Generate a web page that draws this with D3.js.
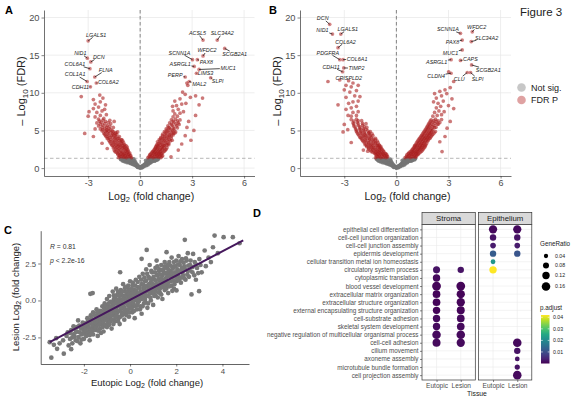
<!DOCTYPE html>
<html><head><meta charset="utf-8">
<script src="https://cdn.jsdelivr.net/npm/d3@7"></script>
<style>body{margin:0;background:#fff}svg{display:block}</style>
</head><body><svg id="c" width="576" height="400"></svg>
<script>
// ---------------- DATA ----------------
const volcXDomain = [-5.55, 6.6];
const volcYDomain = [-1.05, 21];
const volcXTicks = [-3, 0, 3, 6];
const volcYTicks = [0, 5, 10, 15, 20];
const fdrCut = 0.05;

// Panel A (Eutopic) not significant points [log2FC, -log10 FDR]
const aNotSig = [[-1.1,1.25],[-1.05,1.1],[-0.98,1.2],[-0.95,1.0],[-0.9,1.12],[-0.85,0.92],[-0.8,1.25],[-0.78,1.05],[-0.72,0.85],[-0.7,1.18],[-0.65,0.95],[-0.62,0.78],[-0.6,1.1],[-0.55,0.9],[-0.52,0.68],[-0.5,1.22],[-0.47,0.8],[-0.45,0.6],[-0.42,1.0],[-0.4,0.72],[-0.37,1.2],[-0.35,0.52],[-0.33,0.85],[-0.3,0.62],[-0.27,0.42],[-0.25,0.7],[-0.22,0.35],[-0.2,0.5],[-0.17,0.25],[-0.14,0.38],[-0.12,0.15],[-0.08,0.22],[-0.05,0.08],[-0.02,0.03],[0.02,0.05],[0.05,0.12],[0.08,0.2],[0.12,0.1],[0.15,0.3],[0.18,0.22],[0.22,0.42],[0.25,0.3],[0.28,0.55],[0.3,0.4],[0.34,0.7],[0.37,0.5],[0.4,0.88],[0.43,0.62],[0.46,1.05],[0.5,0.75],[0.53,1.2],[0.56,0.9],[0.6,0.7],[0.63,1.05],[0.67,0.85],[0.7,1.22],[0.74,0.98],[0.78,1.15],[0.82,0.92],[0.86,1.25],[0.9,1.05],[0.95,1.2],[1.0,1.1],[1.06,1.25],[-0.58,1.28],[0.57,1.28],[-0.3,0.95],[0.32,1.0],[-0.86,1.22],[0.83,1.1],
[-1.12,1.15],[-1.0,0.95],[-0.92,1.05],[-0.88,0.85],[-0.8,0.95],[-0.76,0.75],[-0.68,1.0],[-0.64,0.7],[-0.58,0.85],[-0.55,0.6],[-0.48,0.7],[-0.44,0.52],[-0.38,0.6],[-0.34,0.42],[-0.28,0.5],[-0.24,0.32],[-0.18,0.3],[-0.15,0.12],[-0.1,0.15],[-0.04,0.15],[0.04,0.18],[0.1,0.05],[0.12,0.25],[0.18,0.35],[0.22,0.2],[0.27,0.45],[0.32,0.52],[0.36,0.35],[0.4,0.62],[0.45,0.45],[0.48,0.88],[0.52,0.6],[0.58,1.05],[0.62,0.85],[0.68,1.1],[0.72,0.92],[0.8,1.2],[0.88,1.0],[0.95,1.1],[1.02,1.2]];
// Panel A significant points
const aSig = [[-1.25,1.4],[-1.1,1.5],[-0.95,1.45],[-0.8,1.4],[-0.65,1.5],[-0.5,1.4],[-1.2,1.7],[-1.0,1.75],[-0.85,1.65],[-0.7,1.8],[-0.55,1.7],[-1.3,1.95],[-1.1,2.0],[-0.9,1.95],[-0.75,2.1],[-0.6,2.0],
[-1.45,2.2],[-1.25,2.3],[-1.05,2.25],[-0.85,2.35],[-0.7,2.4],[-1.4,2.55],[-1.2,2.6],[-1.0,2.65],[-0.8,2.6],[-1.5,2.85],[-1.3,2.9],[-1.1,2.95],[-0.9,2.85],[-0.75,2.8],
[-1.65,3.1],[-1.45,3.2],[-1.25,3.15],[-1.05,3.25],[-0.9,3.1],[-1.75,3.5],[-1.55,3.45],[-1.35,3.55],[-1.15,3.5],[-1.0,3.6],[-1.7,3.8],[-1.5,3.85],[-1.3,3.9],[-1.1,3.8],[-1.85,4.0],[-1.6,4.1],
[-1.4,4.15],[-1.2,4.2],[-2.0,4.3],[-1.8,4.35],[-1.55,4.4],[-1.35,4.45],[-2.1,4.65],[-1.9,4.7],[-1.7,4.75],[-1.45,4.6],[-1.3,4.8],[-2.2,4.95],[-1.95,5.0],[-1.6,4.95],
[-2.3,5.2],[-2.05,5.3],[-1.8,5.25],[-1.55,5.4],[-2.4,5.6],[-2.15,5.7],[-1.9,5.65],[-1.7,5.9],[-2.5,6.0],[-2.25,6.1],[-2.0,6.2],[-1.75,6.35],[-2.4,6.5],[-2.1,6.6],
[-2.6,6.8],[-2.3,7.0],[-1.95,7.1],[-3.0,6.9],[-2.5,7.4],[-2.2,7.6],[-2.95,7.5],[-2.7,7.9],[-2.4,8.1],[-2.05,7.8],[-2.6,8.5],[-2.3,8.8],[-2.0,8.4],[-2.7,9.1],[-2.33,9.7],[-3.4,9.5],[-2.15,9.3],
[-2.7,4.2],[-2.2,3.3],[-3.2,4.6],[-1.9,2.6],[-2.6,5.2],[-1.5,6.2],
[0.45,1.4],[0.6,1.5],[0.75,1.4],[0.9,1.5],[1.05,1.45],[1.2,1.4],[0.55,1.75],[0.7,1.7],[0.85,1.8],[1.0,1.7],[1.15,1.75],[1.3,1.65],[0.65,2.0],[0.8,2.05],[0.95,1.95],[1.1,2.0],[1.25,1.95],
[0.75,2.25],[0.9,2.3],[1.05,2.2],[1.2,2.3],[1.4,2.25],[0.85,2.55],[1.0,2.6],[1.15,2.5],[1.3,2.6],[1.5,2.5],[0.9,2.85],[1.05,2.9],[1.25,2.85],[1.4,2.95],
[0.95,3.1],[1.1,3.2],[1.3,3.15],[1.5,3.2],[1.65,3.1],[1.0,3.5],[1.2,3.45],[1.4,3.55],[1.6,3.5],[1.1,3.8],[1.3,3.85],[1.5,3.9],[1.7,3.8],[1.85,3.7],
[1.2,4.1],[1.4,4.2],[1.6,4.15],[1.8,4.25],[1.3,4.5],[1.5,4.55],[1.7,4.45],[1.9,4.6],[1.4,4.85],[1.6,4.9],[1.85,4.95],[2.05,4.8],
[1.5,5.2],[1.7,5.3],[1.95,5.25],[1.6,5.6],[1.85,5.7],[2.1,5.6],[1.7,6.0],[1.95,6.1],[2.2,6.0],[1.8,6.4],[2.05,6.5],[2.3,6.4],[1.9,6.8],[2.15,6.9],
[2.0,7.2],[2.3,7.3],[1.9,7.6],[2.2,7.8],[2.5,7.5],[1.87,8.2],[2.1,8.3],[2.4,8.5],[2.64,8.6],[2.0,8.9],[2.3,9.2],
[2.93,3.7],[1.78,1.5],[2.6,4.3],[3.1,5.0],[2.4,3.2],[2.8,6.2],[3.2,7.0],[2.7,5.4],[3.4,8.4],[2.2,2.4],
[2.6,9.8],[2.9,9.4],[3.2,9.6],[3.6,9.3],[2.45,10.1],[2.75,11.0],[2.7,11.3]];
// Panel A significant points in the dense lower arms
const aSigDense = [[-1.18,1.55],[-1.02,1.6],[-0.88,1.55],[-0.72,1.6],[-0.58,1.58],[-1.28,1.8],[-1.12,1.85],[-0.95,1.85],[-0.8,1.9],[-0.65,1.85],[-1.38,2.1],[-1.2,2.12],[-1.0,2.1],[-0.82,2.2],[-0.68,2.2],[-1.5,2.4],[-1.32,2.45],[-1.12,2.42],[-0.92,2.48],[-0.75,2.52],[-1.55,2.7],[-1.35,2.75],[-1.15,2.78],[-0.95,2.72],[-0.82,2.98],[-1.6,3.0],[-1.4,3.05],[-1.2,3.02],[-1.0,2.98],[-1.7,3.3],[-1.5,3.35],[-1.3,3.32],[-1.1,3.38],[-0.95,3.35],[-1.8,3.65],[-1.6,3.62],[-1.4,3.7],[-1.2,3.68],[-1.05,3.75],[-1.9,3.92],[-1.75,4.05],[-1.45,4.0],[-1.25,3.98],[-1.95,4.2],[-1.65,4.3],[-1.45,4.32],[-2.05,4.5],[-1.85,4.52],[-1.6,4.55],[-1.4,4.7],[-2.0,4.85],[-1.8,4.88],[-1.55,4.8],[-2.15,5.1],[-1.9,5.12],[-1.7,5.1],[-2.2,5.45],[-1.95,5.45],[-1.75,5.55],[-2.3,5.85],[-2.05,5.9],[-1.85,6.05],[-2.35,6.25],[-2.15,6.38],
[0.52,1.55],[0.68,1.6],[0.82,1.55],[0.98,1.6],[1.12,1.58],[1.25,1.55],[0.6,1.85],[0.78,1.9],[0.92,1.88],[1.08,1.85],[1.2,1.88],[0.7,2.15],[0.85,2.15],[1.0,2.12],[1.15,2.15],[1.32,2.1],[0.8,2.42],[0.95,2.45],[1.1,2.4],[1.28,2.45],[1.45,2.4],[0.88,2.7],[1.02,2.75],[1.2,2.72],[1.38,2.75],[1.55,2.7],[0.98,3.0],[1.15,3.02],[1.35,3.0],[1.55,3.05],[1.05,3.3],[1.25,3.32],[1.45,3.35],[1.65,3.3],[1.15,3.65],[1.35,3.68],[1.55,3.7],[1.75,3.62],[1.2,3.95],[1.4,4.0],[1.62,4.02],[1.8,4.0],[1.3,4.3],[1.5,4.35],[1.7,4.3],[1.9,4.4],[1.45,4.7],[1.65,4.72],[1.82,4.7],[2.0,4.65],[1.55,5.05],[1.75,5.1],[1.95,5.05],[1.65,5.42],[1.9,5.45],[2.15,5.35],[1.8,5.85],[2.05,5.85],[2.25,5.8],[1.9,6.25],[2.15,6.25]];
// Panel A labelled genes [name, log2FC, -log10 FDR]
const aGenes = [["LGALS1",-3.0,16.9],["NID1",-3.05,14.6],["DCN",-2.85,14.1],["COL6A1",-2.9,13.2],["FLNA",-2.62,12.1],["COL1A1",-3.06,11.5],["COL6A2",-2.53,11.3],["CDH11",-2.87,10.8],
["ACSL5",3.63,17.0],["SLC34A2",4.45,17.0],["WFDC2",3.63,14.9],["SCGB2A1",4.88,15.9],["SCNN1A",3.02,14.4],["PAX8",3.3,14.4],["ASRGL1",3.12,13.5],["MUC1",3.4,13.1],["LIMS3",3.25,12.6],["PERP",2.6,12.1],["SLPI",4.07,12.0],["MAL2",2.83,11.5]];

// Panel B (Lesion)
const bNotSig = [[-1.15,1.22],[-1.08,1.08],[-1.0,1.25],[-0.96,0.98],[-0.92,1.15],[-0.86,0.9],[-0.82,1.22],[-0.78,1.02],[-0.74,0.84],[-0.7,1.15],[-0.66,0.96],[-0.63,0.76],[-0.6,1.08],[-0.56,0.88],[-0.53,0.66],[-0.5,1.2],[-0.47,0.78],[-0.44,0.58],[-0.42,0.98],[-0.39,0.7],[-0.36,1.18],[-0.34,0.5],[-0.32,0.84],[-0.29,0.6],[-0.26,0.4],[-0.24,0.68],[-0.21,0.33],[-0.19,0.48],[-0.16,0.24],[-0.13,0.36],[-0.11,0.14],[-0.07,0.2],[-0.04,0.07],[0.0,0.02],[0.03,0.06],[0.06,0.13],[0.09,0.22],[0.13,0.11],[0.16,0.32],[0.19,0.24],[0.23,0.44],[0.26,0.31],[0.29,0.57],[0.32,0.42],[0.35,0.72],[0.38,0.52],[0.41,0.9],[0.44,0.64],[0.47,1.07],[0.51,0.77],[0.54,1.22],[0.58,0.92],[0.62,0.72],[0.65,1.07],[0.69,0.87],[0.73,1.24],[0.77,1.0],[0.81,1.17],[0.85,0.94],[0.9,1.26],[0.95,1.07],[1.0,1.22],[1.05,1.12],[1.1,1.27],[-0.6,1.28],[0.6,1.28],[-0.31,0.97],[0.34,1.02],[-0.88,1.24],[0.86,1.12],
[-1.1,1.15],[-1.02,0.95],[-0.94,1.05],[-0.9,0.82],[-0.82,0.95],[-0.78,0.72],[-0.7,1.0],[-0.66,0.68],[-0.6,0.85],[-0.56,0.58],[-0.5,0.7],[-0.45,0.5],[-0.4,0.6],[-0.36,0.4],[-0.3,0.5],[-0.25,0.3],[-0.2,0.3],[-0.16,0.12],[-0.1,0.15],[-0.04,0.15],[0.04,0.18],[0.1,0.06],[0.13,0.25],[0.19,0.35],[0.23,0.2],[0.28,0.45],[0.33,0.52],[0.37,0.35],[0.42,0.62],[0.47,0.45],[0.5,0.88],[0.54,0.6],[0.6,1.05],[0.65,0.85],[0.7,1.1],[0.75,0.92],[0.82,1.2],[0.9,1.0],[0.97,1.12],[1.04,1.22]];
const bSig = [[-1.2,1.4],[-1.05,1.5],[-0.9,1.4],[-0.75,1.45],[-0.6,1.4],[-0.5,1.5],[-1.15,1.75],[-1.0,1.7],[-0.85,1.8],[-0.7,1.7],[-0.55,1.75],[-1.25,2.0],[-1.1,1.95],[-0.95,2.05],[-0.8,2.0],[-0.65,1.95],
[-1.45,2.2],[-1.3,2.3],[-1.1,2.25],[-0.95,2.35],[-0.75,2.3],[-1.6,2.55],[-1.4,2.6],[-1.2,2.5],[-1.0,2.65],[-0.85,2.6],[-1.7,2.85],[-1.5,2.9],[-1.3,2.8],[-1.1,2.95],[-0.9,2.9],[-1.65,2.25],
[-1.8,3.1],[-1.6,3.2],[-1.4,3.15],[-1.2,3.25],[-1.0,3.1],[-1.9,3.5],[-1.7,3.45],[-1.5,3.55],[-1.3,3.5],[-1.1,3.6],[-2.0,3.85],[-1.8,3.8],[-1.55,3.9],[-1.35,3.85],[-1.2,3.95],
[-2.1,4.1],[-1.9,4.2],[-1.7,4.15],[-1.5,4.25],[-1.35,4.3],[-2.2,4.5],[-2.0,4.55],[-1.8,4.45],[-1.6,4.6],[-1.4,4.55],[-2.3,4.85],[-2.05,4.9],[-1.85,4.8],[-1.65,4.95],[-1.5,4.85],
[-2.35,5.2],[-2.1,5.3],[-1.9,5.25],[-1.7,5.4],[-2.45,5.6],[-2.2,5.65],[-1.95,5.7],[-1.75,5.9],[-2.5,6.0],[-2.25,6.1],[-2.0,6.3],[-2.6,6.45],[-2.3,6.5],
[-2.6,6.9],[-2.3,7.0],[-2.78,7.0],[-2.5,7.4],[-2.2,7.5],[-2.9,7.8],[-2.6,8.0],[-2.3,8.2],[-3.36,8.4],[-2.75,8.6],[-2.5,8.8],[-2.2,8.9],
[-2.68,10.1],[-2.9,9.4],[-2.4,9.6],[-3.0,10.4],[-2.6,10.8],[-2.3,10.3],[-2.9,11.0],[-2.5,11.3],[-2.2,11.0],[-3.94,11.5],[-2.75,11.6],[-2.1,9.5],
[-3.07,4.8],[-2.6,3.4],[-3.0,5.8],[-2.8,5.1],[-1.9,2.4],
[0.5,1.4],[0.65,1.5],[0.8,1.4],[0.95,1.5],[1.1,1.45],[0.6,1.75],[0.75,1.7],[0.9,1.8],[1.05,1.7],[1.2,1.75],[0.7,2.0],[0.85,1.95],[1.0,2.05],[1.15,2.0],[1.3,1.95],
[0.85,2.25],[1.0,2.3],[1.15,2.2],[1.3,2.35],[1.45,2.25],[0.95,2.55],[1.1,2.6],[1.25,2.5],[1.4,2.65],[1.55,2.55],[1.05,2.85],[1.2,2.9],[1.35,2.8],[1.5,2.95],[1.65,2.85],
[1.1,3.1],[1.25,3.2],[1.4,3.15],[1.55,3.25],[1.7,3.1],[1.2,3.5],[1.35,3.45],[1.5,3.55],[1.65,3.5],[1.8,3.6],[1.3,3.85],[1.45,3.8],[1.6,3.9],[1.75,3.85],[1.9,3.95],
[1.4,4.15],[1.55,4.2],[1.7,4.1],[1.85,4.25],[2.0,4.2],[1.5,4.5],[1.65,4.55],[1.8,4.45],[1.95,4.6],[2.1,4.5],[1.6,4.85],[1.75,4.9],[1.9,4.8],[2.05,4.95],[2.25,4.85],
[1.7,5.2],[1.85,5.3],[2.0,5.25],[2.2,5.4],[1.8,5.6],[1.95,5.7],[2.15,5.65],[2.35,5.8],[1.9,6.0],[2.1,6.1],[2.3,6.2],[2.5,6.05],[2.0,6.4],[2.25,6.5],[2.6,6.45],
[2.1,6.9],[2.35,7.0],[2.6,7.1],[2.2,7.4],[2.45,7.6],[2.75,7.5],[2.3,8.0],[2.55,8.2],[3.3,7.9],[2.14,8.8],[2.4,8.6],[2.7,8.9],[3.0,8.3],
[2.3,9.3],[2.6,9.6],[2.9,9.9],[3.2,9.2],[2.5,10.2],[2.8,10.4],[3.1,10.7],[2.2,9.9],[3.3,11.5],[3.01,12.8],
[2.92,5.3],[2.63,2.2],[2.5,3.5],[3.1,6.2],[2.8,4.2]];
const bSigDense = [[-1.12,1.55],[-0.98,1.6],[-0.82,1.55],[-0.68,1.6],[-0.55,1.6],[-1.2,1.85],[-1.05,1.85],[-0.9,1.9],[-0.75,1.85],[-0.6,1.88],[-1.35,2.1],[-1.18,2.12],[-1.02,2.15],[-0.88,2.18],[-0.72,2.15],[-1.5,2.4],[-1.35,2.45],[-1.15,2.4],[-0.98,2.48],[-0.82,2.45],[-1.6,2.7],[-1.42,2.75],[-1.22,2.7],[-1.05,2.78],[-0.92,2.72],[-1.72,3.0],[-1.52,3.05],[-1.32,3.0],[-1.12,3.02],[-0.98,2.98],[-1.82,3.32],[-1.6,3.35],[-1.4,3.3],[-1.2,3.38],[-1.05,3.35],[-1.95,3.68],[-1.75,3.65],[-1.55,3.72],[-1.35,3.68],[-1.2,3.75],[-2.05,4.0],[-1.85,4.02],[-1.65,3.98],[-1.45,4.05],[-2.15,4.32],[-1.95,4.35],[-1.75,4.32],[-1.55,4.4],[-2.25,4.68],[-2.05,4.72],[-1.82,4.65],[-1.58,4.72],[-2.3,5.05],[-2.1,5.1],[-1.9,5.05],[-1.75,5.15],[-2.38,5.45],[-2.1,5.48],[-1.85,5.52],[-2.45,5.85],[-2.2,5.88],[-1.95,5.95],[-2.45,6.25],[-2.2,6.3],
[0.58,1.55],[0.72,1.6],[0.88,1.55],[1.02,1.6],[1.15,1.6],[0.68,1.88],[0.82,1.85],[0.98,1.9],[1.12,1.88],[1.25,1.85],[0.78,2.15],[0.92,2.15],[1.08,2.12],[1.22,2.18],[1.38,2.12],[0.9,2.42],[1.05,2.45],[1.2,2.4],[1.35,2.48],[1.5,2.42],[1.0,2.72],[1.15,2.75],[1.3,2.68],[1.45,2.78],[1.6,2.7],[1.05,3.0],[1.2,3.02],[1.35,2.98],[1.5,3.05],[1.65,3.0],[1.15,3.32],[1.3,3.35],[1.45,3.3],[1.6,3.38],[1.75,3.32],[1.25,3.68],[1.4,3.65],[1.55,3.72],[1.7,3.68],[1.85,3.75],[1.35,4.0],[1.5,4.02],[1.65,3.98],[1.8,4.05],[1.95,4.0],[1.45,4.32],[1.6,4.35],[1.75,4.3],[1.9,4.38],[2.05,4.35],[1.55,4.68],[1.72,4.72],[1.88,4.65],[2.02,4.75],[2.18,4.68],[1.65,5.05],[1.8,5.1],[1.95,5.05],[2.1,5.12],[1.75,5.45],[1.9,5.48],[2.08,5.5],[2.28,5.42],[1.85,5.85],[2.02,5.88],[2.22,5.95],[2.42,5.85],[1.95,6.25],[2.15,6.3],[2.4,6.28]];
const bGenes = [["DCN",-3.84,19.1],["NID1",-3.68,17.8],["LGALS1",-3.2,17.8],["COL6A2",-3.36,16.0],["PDGFRA",-3.26,14.4],["COL6A1",-3.07,14.4],["TIMP2",-3.03,13.3],["CDH11",-3.1,12.8],["CRISPLD2",-3.26,11.7],
["SCNN1A",3.69,17.9],["WFDC2",4.37,18.1],["PAX8",3.79,17.0],["SLC34A2",4.31,16.8],["MUC1",3.79,15.7],["CAPS",3.69,14.3],["ASRGL1",3.15,14.4],["SCGB2A1",4.33,13.7],["CLDN4",3.15,12.6],["CLU",4.08,12.7],["SLPI",4.27,12.7]];

// Panel C: [eutopic log2FC, lesion log2FC]
const cPoints = [[-3.48,-2.82],[-3.41,-3.87],[-3.16,-3.27],[-3.3,-3.0],[-3.05,-2.9],[-3.2,-2.55],
[-2.87,-3.6],[-2.66,-3.04],[-2.9,-2.7],[-2.75,-2.4],[-2.6,-2.6],[-2.55,-3.3],[-2.7,-2.15],[-2.5,-2.9],
[-2.45,-2.3],[-2.4,-1.9],[-2.35,-2.7],[-2.23,-2.48],[-2.3,-2.1],[-2.2,-1.7],[-2.15,-2.9],[-2.1,-2.3],[-2.05,-1.5],[-2.0,-2.0],[-2.25,-1.35],[-2.0,-2.6],
[-1.95,-1.8],[-1.9,-2.4],[-1.85,-1.2],[-1.8,-1.6],[-1.8,-2.1],[-1.75,-2.7],[-1.7,-1.0],[-1.7,-1.4],[-1.65,-1.9],[-1.6,-2.3],[-1.6,-0.8],[-1.55,-1.6],[-1.5,-1.2],[-1.5,-2.0],[-1.72,0.45],[-1.62,0.5],
[-1.45,-0.6],[-1.45,-1.7],[-1.4,-1.0],[-1.4,-2.4],[-1.35,-1.4],[-1.3,-0.7],[-1.3,-1.9],[-1.25,-1.1],[-1.2,-0.4],[-1.2,-1.6],[-1.15,-0.9],[-1.15,-2.1],[-1.1,-1.3],[-1.1,-0.2],[-1.05,-0.7],[-1.0,-1.1],[-1.0,-1.8],[-1.0,0.1],
[-0.95,-0.4],[-0.95,-1.5],[-0.9,-0.9],[-0.9,0.3],[-0.85,-1.2],[-0.85,-0.1],[-0.8,-0.6],[-0.8,-1.9],[-0.75,-0.3],[-0.75,0.6],[-0.7,-1.0],[-0.7,0.1],[-0.65,-0.5],[-0.65,-1.4],[-0.6,-0.1],[-0.6,0.8],[-0.55,-0.8],[-0.55,0.4],[-0.5,-0.3],[-0.5,-1.2],
[-0.45,0.1],[-0.45,-1.6],[-0.43,1.91],[-0.4,-0.6],[-0.4,0.7],[-0.35,-0.2],[-0.35,-1.0],[-0.3,0.3],[-0.3,1.1],[-0.25,-0.5],[-0.25,-1.3],[-0.2,0.0],[-0.2,0.6],[-0.15,-0.8],[-0.15,0.9],[-0.1,-0.3],[-0.1,0.3],[-0.05,-1.1],[-0.05,0.7],[0.0,-0.5],[0.0,0.1],[0.0,1.3],
[0.05,-0.2],[0.05,0.5],[0.1,-0.8],[0.1,1.0],[0.15,0.2],[0.15,-0.4],[0.2,0.7],[0.2,-1.2],[0.25,0.0],[0.25,1.4],[0.3,0.4],[0.3,-0.6],[0.35,0.9],[0.35,-0.1],[0.4,0.2],[0.4,1.6],[0.45,-0.4],[0.45,0.6],[0.5,1.1],[0.5,-0.9],
[0.5,2.82],[0.55,0.3],[0.55,1.8],[0.6,0.8],[0.6,-0.2],[0.65,1.3],[0.65,0.1],[0.7,0.6],[0.72,3.42],[0.7,2.1],[0.75,1.0],[0.75,-0.5],[0.8,0.3],[0.8,1.6],[0.85,0.8],[0.85,2.4],[0.9,0.0],[0.9,1.2],[0.95,0.5],[0.95,1.9],[1.0,0.9],[1.0,-0.3],
[1.05,1.4],[1.05,0.3],[1.1,2.2],[1.1,0.7],[1.15,1.1],[1.15,2.7],[1.2,0.2],[1.2,1.7],[1.25,0.9],[1.25,2.0],[1.3,1.3],[1.3,0.5],[1.35,2.4],[1.35,1.0],[1.4,1.7],[1.4,0.1],[1.45,2.1],[1.45,1.3],[1.5,0.7],[1.5,2.6],
[1.55,1.5],[1.58,3.27],[1.6,1.0],[1.6,2.2],[1.65,1.8],[1.65,0.5],[1.7,2.6],[1.7,1.3],[1.75,2.0],[1.8,1.0],[1.8,2.9],[1.85,1.6],[1.9,2.3],[1.9,0.8],[1.95,1.9],[2.0,1.3],[2.0,2.7],[2.01,0.68],
[2.05,2.1],[2.1,1.6],[2.1,3.0],[2.15,2.4],[2.2,1.2],[2.2,2.0],[2.25,2.8],[2.3,1.7],[2.35,2.3],[2.37,4.1],[2.4,1.4],[2.45,2.7],[2.5,2.0],[2.5,3.2],
[2.55,1.6],[2.6,2.4],[2.66,0.41],[2.7,1.9],[2.73,3.15],[2.8,2.6],[2.85,1.4],[2.9,2.2],[2.99,0.63],[3.0,2.8],
[3.1,1.9],[3.23,3.38],[3.28,2.32],[3.4,2.9],[3.59,3.6],[3.66,4.39],[3.8,3.2],[4.05,4.28],[4.45,4.28],[4.74,3.87],[3.5,2.6]];
const cPointsCore = [[-2.6,-2.2],[-2.55,-2.0],[-2.5,-2.5],[-2.45,-1.75],[-2.4,-2.45],[-2.35,-2.15],[-2.3,-1.8],[-2.28,-2.75],[-2.18,-2.15],[-2.12,-1.9],[-2.1,-2.65],[-2.05,-2.25],[-2.02,-1.75],
[-1.98,-2.2],[-1.95,-1.55],[-1.92,-2.0],[-1.88,-1.7],[-1.85,-2.25],[-1.82,-1.35],[-1.78,-1.85],[-1.75,-2.35],[-1.72,-1.55],[-1.68,-1.2],[-1.66,-2.1],[-1.62,-1.7],[-1.58,-1.35],[-1.56,-1.95],[-1.52,-1.0],[-1.52,-1.5],
[-1.48,-1.85],[-1.46,-1.3],[-1.42,-0.8],[-1.4,-1.5],[-1.38,-2.05],[-1.36,-1.15],[-1.33,-1.65],[-1.3,-0.95],[-1.28,-1.4],[-1.26,-2.2],[-1.22,-0.75],[-1.2,-1.2],[-1.18,-1.8],[-1.15,-1.45],[-1.12,-0.55],[-1.1,-1.05],[-1.08,-1.65],[-1.05,-0.35],[-1.04,-1.3],[-1.02,-0.9],
[-0.98,-1.3],[-0.97,-0.6],[-0.94,-1.1],[-0.92,-0.2],[-0.9,-1.65],[-0.88,-0.75],[-0.86,-1.4],[-0.83,-0.45],[-0.82,-1.0],[-0.78,-0.1],[-0.78,-1.3],[-0.76,-0.75],[-0.72,-1.6],[-0.72,-0.45],[-0.7,0.35],[-0.68,-0.8],[-0.66,-0.2],[-0.63,-1.15],[-0.62,0.3],[-0.6,-0.6],[-0.58,-1.0],[-0.57,0.05],[-0.54,-0.4],[-0.52,0.6],[-0.52,-1.4],
[-0.48,-0.7],[-0.47,0.35],[-0.44,-0.1],[-0.42,-1.1],[-0.4,0.45],[-0.38,-0.45],[-0.37,-0.8],[-0.33,0.05],[-0.32,0.6],[-0.3,-0.3],[-0.28,-0.9],[-0.27,0.2],[-0.23,-0.65],[-0.22,0.85],[-0.2,-0.2],[-0.18,0.35],[-0.16,-1.0],[-0.14,0.05],[-0.12,0.55],[-0.1,-0.6],[-0.08,1.0],[-0.07,-0.1],[-0.04,0.4],[-0.02,-0.8],[0.0,0.75],[0.02,-0.25],
[0.03,0.3],[0.06,-0.55],[0.08,0.75],[0.1,0.05],[0.12,1.2],[0.13,-0.2],[0.16,0.5],[0.18,-0.7],[0.2,0.25],[0.22,1.0],[0.24,-0.35],[0.27,0.65],[0.28,0.15],[0.32,-0.3],[0.33,1.25],[0.36,0.45],[0.38,-0.05],[0.42,0.85],[0.43,-0.6],[0.46,0.35],[0.48,1.4],[0.5,0.1],
[0.52,0.6],[0.54,-0.4],[0.57,1.05],[0.58,0.15],[0.62,1.55],[0.63,0.45],[0.66,-0.1],[0.68,0.95],[0.7,1.35],[0.72,0.3],[0.74,1.8],[0.77,0.7],[0.78,-0.2],[0.82,1.1],[0.84,0.5],[0.86,1.5],[0.88,0.2],[0.9,0.85],[0.92,2.0],[0.93,1.4],[0.96,0.7],[0.98,1.1],
[1.02,1.6],[1.03,0.5],[1.06,1.05],[1.08,1.9],[1.1,0.35],[1.12,1.35],[1.14,0.85],[1.17,1.7],[1.18,2.3],[1.2,1.05],[1.22,0.55],[1.24,1.45],[1.27,2.1],[1.28,0.75],[1.3,1.75],[1.32,1.1],[1.35,0.4],[1.37,1.5],[1.38,2.05],[1.42,0.9],[1.43,1.3],[1.46,1.85],[1.48,1.05],[1.5,2.3],
[1.52,1.25],[1.55,1.85],[1.57,0.8],[1.6,1.6],[1.62,2.4],[1.64,1.2],[1.67,2.05],[1.7,0.95],[1.72,1.65],[1.75,2.35],[1.77,1.3],[1.8,1.85],[1.83,0.65],[1.85,2.15],[1.88,1.35],[1.9,2.6],[1.92,1.1],[1.95,1.7],[1.97,2.3],[2.0,1.55],
[2.05,1.85],[2.08,2.45],[2.12,1.35],[2.15,2.0],[2.18,2.65],[2.22,1.55],[2.25,2.2],[2.28,1.95],[2.32,2.55],[2.35,1.5],[2.4,2.1],[2.42,2.85],[2.48,1.75],[2.52,2.35],[2.58,2.05],[2.62,2.7],
[2.7,2.25],[2.78,1.7],[2.85,2.45],[2.95,1.85],[3.05,2.4]];
const cXTicks = [-2, 0, 2, 4];
const cYTicks = [-2.5, 0, 2.5];
const cFit = {slope: 0.822, intercept: 0.04, xmin: -3.48, xmax: 4.9};
const cStats = {R: "0.81", p: "2.2e-16"};

// Panel D: GO enrichment
const goTerms = ["epithelial cell differentiation","cell-cell junction organization","cell-cell junction assembly","epidermis development","cellular transition metal ion homeostasis","circulatory system process","cytoplasmic translation","blood vessel development","extracellular matrix organization","extracellular structure organization","external encapsulating structure organization","cell-substrate adhesion","skeletal system development","negative regulation of multicellular organismal process","cell-cell adhesion","cilium movement","axoneme assembly","microtubule bundle formation","cell projection assembly"];
const goCompartments = ["Stroma","Epithelium"];
const goTissues = ["Eutopic","Lesion"];
// [term, GeneRatio, p.adjust]
const stromaEutopic = [["circulatory system process",0.11,0.002],["cytoplasmic translation",0.12,0.001],["blood vessel development",0.17,0.0005],["extracellular matrix organization",0.13,0.0005],["extracellular structure organization",0.13,0.0005],["external encapsulating structure organization",0.12,0.0005],["cell-substrate adhesion",0.12,0.001],["skeletal system development",0.12,0.001],["negative regulation of multicellular organismal process",0.16,0.001],["cell-cell adhesion",0.14,0.001]];
const stromaLesion = [["circulatory system process",0.09,0.002],["blood vessel development",0.17,0.0005],["extracellular matrix organization",0.15,0.0005],["extracellular structure organization",0.15,0.0005],["external encapsulating structure organization",0.14,0.0005],["cell-substrate adhesion",0.13,0.001],["skeletal system development",0.13,0.001],["negative regulation of multicellular organismal process",0.16,0.001],["cell-cell adhesion",0.15,0.001]];
const epiEutopic = [["epithelial cell differentiation",0.15,0.001],["cell-cell junction organization",0.09,0.002],["cell-cell junction assembly",0.07,0.003],["epidermis development",0.09,0.012],["cellular transition metal ion homeostasis",0.05,0.022],["circulatory system process",0.12,0.042]];
const epiLesion = [["epithelial cell differentiation",0.15,0.001],["cell-cell junction organization",0.09,0.002],["cell-cell junction assembly",0.07,0.003],["epidermis development",0.09,0.011],["cell-cell adhesion",0.16,0.001],["cilium movement",0.09,0.002],["axoneme assembly",0.05,0.002],["microtubule bundle formation",0.06,0.002],["cell projection assembly",0.16,0.001]];
const sizeBreaks = [0.04, 0.08, 0.12, 0.16];
const padjBreaks = [0.01, 0.02, 0.03, 0.04];

// ---------------- LAYOUT ----------------
const FONT = '"Liberation Sans", Arial, Helvetica, sans-serif';
const svg = d3.select('#c').attr('font-family', FONT);
svg.append('rect').attr('width',576).attr('height',400).attr('fill','#fff');

const aLabelOffsets = {LGALS1:[8,-6],NID1:[-7,-5],DCN:[8,-5],COL6A1:[-15,-4.5],FLNA:[11,-7],COL1A1:[-12,-7],COL6A2:[12,-1],CDH11:[-10,0.5],
ACSL5:[-5.5,-7],SLC34A2:[5,-7],WFDC2:[4,-5.5],SCGB2A1:[10,5.5],SCNN1A:[-13,-7],PAX8:[9,2.6],ASRGL1:[-14,-2.5],MUC1:[29,-1],LIMS3:[9,0],PERP:[-10,-2],SLPI:[7,3.5],MAL2:[10,3]};
const bLabelOffsets = {DCN:[-7,-6],NID1:[-10,-3.5],LGALS1:[7,-5],COL6A2:[7.5,-6],PDGFRA:[-12,-7],COL6A1:[14,-0.7],TIMP2:[12.7,0.3],CDH11:[-11.5,-5],CRISPLD2:[9,-1.7],
SCNN1A:[-12.5,-4],WFDC2:[4.4,-5],PAX8:[-9.7,2.2],SLC34A2:[15.4,-4],MUC1:[-11.7,2.8],CAPS:[10,-1],ASRGL1:[-14.4,2],SCGB2A1:[16.7,5],CLDN4:[-15,2.5],CLU:[-8,6.5],SLPI:[7,6.5]};

function styleAxis(sel, fs, col) {
  sel.attr('font-family', FONT).attr('font-size', fs);
  sel.select('.domain').attr('stroke', col || '#333').attr('stroke-width', 0.7);
  sel.selectAll('.tick line').attr('stroke', col || '#333').attr('stroke-width', 0.6);
  sel.selectAll('.tick text').attr('fill', '#4d4d4d');
}

function volcano(cfg) {
  const g = svg.append('g');
  const x = d3.scaleLinear().domain(volcXDomain).range([cfg.left, cfg.right]);
  const y = d3.scaleLinear().domain(volcYDomain).range([cfg.bottom, cfg.top]);
  g.append('g').selectAll('line').data(volcXTicks).join('line')
    .attr('x1', d => x(d)).attr('x2', d => x(d)).attr('y1', cfg.top).attr('y2', cfg.bottom)
    .attr('stroke', '#e6e6e6').attr('stroke-width', 0.7);
  g.append('g').selectAll('line').data(volcYTicks).join('line')
    .attr('y1', d => y(d)).attr('y2', d => y(d)).attr('x1', cfg.left).attr('x2', cfg.right)
    .attr('stroke', '#e6e6e6').attr('stroke-width', 0.7);
  g.append('line').attr('x1', x(0)).attr('x2', x(0)).attr('y1', cfg.top).attr('y2', cfg.bottom)
    .attr('stroke', '#555').attr('stroke-width', 0.7).attr('stroke-dasharray', '3.5,2.5');
  g.append('line').attr('y1', y(-Math.log10(fdrCut))).attr('y2', y(-Math.log10(fdrCut))).attr('x1', cfg.left).attr('x2', cfg.right)
    .attr('stroke', '#9a9a9a').attr('stroke-width', 0.7).attr('stroke-dasharray', '3.5,2.5');
  g.append('g').selectAll('circle').data(cfg.notSig).join('circle')
    .attr('cx', d => x(d[0])).attr('cy', d => y(d[1])).attr('r', 1.95)
    .attr('fill', '#747474').attr('fill-opacity', 0.85);
  g.append('g').selectAll('circle').data(cfg.sig.concat(cfg.sigDense)).join('circle')
    .attr('cx', d => x(d[0])).attr('cy', d => y(d[1])).attr('r', 1.85)
    .attr('fill', '#aa2020').attr('fill-opacity', 0.6);
  g.append('g').selectAll('circle').data(cfg.genes).join('circle')
    .attr('cx', d => x(d[1])).attr('cy', d => y(d[2])).attr('r', 1.85)
    .attr('fill', '#b22222').attr('fill-opacity', 0.55);
  const lab = g.append('g');
  cfg.genes.forEach(([name, gx, gy]) => {
    const off = cfg.offsets[name];
    const px = x(gx), py = y(gy);
    const t = lab.append('text').attr('x', px + off[0]).attr('y', py + off[1]).attr('dy', '0.35em')
      .attr('text-anchor', 'middle').attr('font-style', 'italic').attr('font-size', 5.4)
      .attr('fill', '#222').text(name);
    const bb = t.node().getBBox();
    const cx = bb.x + bb.width / 2, cy = bb.y + bb.height / 2;
    const hw = bb.width / 2 + 0.6, hh = bb.height / 2 - 0.3;
    const dx = px - cx, dy = py - cy;
    if (Math.abs(dx) > hw || Math.abs(dy) > hh) {
      const s = Math.min(Math.abs(dx) > 0 ? hw / Math.abs(dx) : Infinity, Math.abs(dy) > 0 ? hh / Math.abs(dy) : Infinity);
      lab.append('line').attr('x1', cx + dx * s).attr('y1', cy + dy * s).attr('x2', px).attr('y2', py)
        .attr('stroke', '#111').attr('stroke-width', 0.75);
    }
  });
  const ay = g.append('g').attr('transform', `translate(${cfg.left},0)`)
    .call(d3.axisLeft(y).tickValues(volcYTicks).tickSize(2.5).tickSizeOuter(0).tickPadding(2).tickFormat(d => String(d)));
  styleAxis(ay, 9.3);
  const ax = g.append('g').attr('transform', `translate(0,${cfg.bottom})`)
    .call(d3.axisBottom(x).tickValues(volcXTicks).tickSize(2.5).tickSizeOuter(0).tickPadding(1.5).tickFormat(d => String(d)));
  styleAxis(ax, 9);
  // titles
  const xt = g.append('text').attr('x', (cfg.left + cfg.right) / 2 + 2).attr('y', 199.5).attr('text-anchor', 'middle')
    .attr('font-size', 10.5).attr('fill', '#222');
  xt.append('tspan').text('Log');
  xt.append('tspan').attr('font-size', 7.5).attr('dy', 2.5).text('2');
  xt.append('tspan').attr('dy', -2.5).text(' (fold change)');
  const yt = g.append('text').attr('transform', `translate(${cfg.left - 19},${(cfg.top + cfg.bottom) / 2 - 2}) rotate(-90)`)
    .attr('text-anchor', 'middle').attr('font-size', 11).attr('fill', '#222');
  yt.append('tspan').text('\u2013 Log');
  yt.append('tspan').attr('font-size', 8).attr('dy', 2.5).text('10');
  yt.append('tspan').attr('dy', -2.5).text(' (FDR)');
  svg.append('text').attr('x', cfg.labelX).attr('y', 14).attr('font-weight', 'bold').attr('font-size', 11).attr('fill', '#000').text(cfg.panel);
}

volcano({panel: 'A', labelX: 5, left: 44, right: 254.5, top: 10, bottom: 176, notSig: aNotSig, sig: aSig, sigDense: aSigDense, genes: aGenes, offsets: aLabelOffsets});
volcano({panel: 'B', labelX: 269, left: 300, right: 511, top: 10, bottom: 176, notSig: bNotSig, sig: bSig, sigDense: bSigDense, genes: bGenes, offsets: bLabelOffsets});

// volcano legend
const vLeg = svg.append('g');
[["Not sig.", '#7a7a7a'], ["FDR P", '#b22222']].forEach((d, i) => {
  vLeg.append('circle').attr('cx', 521.5).attr('cy', 87.5 + i * 12.5).attr('r', 4.3).attr('fill', d[1]).attr('fill-opacity', 0.42);
  vLeg.append('text').attr('x', 531).attr('y', 87.5 + i * 12.5).attr('dy', '0.35em').attr('font-size', 9).attr('fill', '#222').text(d[0]);
});
svg.append('text').attr('x', 520).attr('y', 15.5).attr('font-size', 11.5).attr('fill', '#222').text('Figure 3');

// ---------------- PANEL C ----------------
{
  const L = 40.7, R = 249, T = 230.7, B = 364;
  const x = d3.scaleLinear().domain([-3.87, 5.15]).range([L, R]);
  const y = d3.scaleLinear().domain([-4.3, 4.72]).range([B, T]);
  const g = svg.append('g');
  g.append('g').selectAll('circle').data(cPoints.concat(cPointsCore)).join('circle')
    .attr('cx', d => x(d[0])).attr('cy', d => y(d[1])).attr('r', 2.35).attr('fill', '#787878');
  g.append('line').attr('x1', x(cFit.xmin)).attr('y1', y(cFit.intercept + cFit.slope * cFit.xmin))
    .attr('x2', x(cFit.xmax)).attr('y2', y(cFit.intercept + cFit.slope * cFit.xmax))
    .attr('stroke', '#45185c').attr('stroke-width', 2);
  const ax = g.append('g').attr('transform', `translate(0,${B})`)
    .call(d3.axisBottom(x).tickValues(cXTicks).tickSize(2.5).tickSizeOuter(0).tickPadding(2).tickFormat(d => String(d)));
  styleAxis(ax, 7.8, '#222');
  const ay = g.append('g').attr('transform', `translate(${L},0)`)
    .call(d3.axisLeft(y).tickValues(cYTicks).tickSize(2.5).tickSizeOuter(0).tickPadding(2).tickFormat(d => d.toFixed(1)));
  styleAxis(ay, 7.8, '#222');
  const at = g.append('text').attr('x', 50).attr('y', 249).attr('font-size', 6.8).attr('fill', '#333');
  at.append('tspan').attr('font-style', 'italic').text('R');
  at.append('tspan').text(' = ' + cStats.R);
  const pt = g.append('text').attr('x', 50).attr('y', 263).attr('font-size', 6.8).attr('fill', '#333');
  pt.append('tspan').attr('font-style', 'italic').text('p');
  pt.append('tspan').text(' < ' + cStats.p);
  const xt = g.append('text').attr('x', 147).attr('y', 385.5).attr('text-anchor', 'middle').attr('font-size', 9.5).attr('fill', '#222');
  xt.append('tspan').text('Eutopic Log');
  xt.append('tspan').attr('font-size', 7).attr('dy', 2).text('2');
  xt.append('tspan').attr('dy', -2).text(' (fold change)');
  const yt = g.append('text').attr('transform', `translate(19,297) rotate(-90)`).attr('text-anchor', 'middle').attr('font-size', 9.5).attr('fill', '#222');
  yt.append('tspan').text('Lesion Log');
  yt.append('tspan').attr('font-size', 7).attr('dy', 2).text('2');
  yt.append('tspan').attr('dy', -2).text(' (fold change)');
  svg.append('text').attr('x', 4).attr('y', 234).attr('font-weight', 'bold').attr('font-size', 11).attr('fill', '#000').text('C');
}

// ---------------- PANEL D ----------------
{
  const T = 224.5, B = 380, stripT = 212.5;
  const panels = [{name: goCompartments[0], l: 422, r: 475.3, data: [stromaEutopic, stromaLesion]},
                  {name: goCompartments[1], l: 478.5, r: 531.8, data: [epiEutopic, epiLesion]}];
  const y = d3.scalePoint().domain(goTerms).range([T, B]).padding(0.6);
  const rScale = d3.scaleSqrt().domain([0, 0.17]).range([0, 4.4]);
  const col = d3.scaleSequential(d3.interpolateViridis).domain([0, 0.042]);
  const g = svg.append('g');
  panels.forEach(p => {
    const x = d3.scalePoint().domain(goTissues).range([p.l, p.r]).padding(0.6);
    g.append('rect').attr('x', p.l).attr('y', T).attr('width', p.r - p.l).attr('height', B - T).attr('fill', '#fff');
    g.append('g').selectAll('line').data(goTerms).join('line').attr('x1', p.l).attr('x2', p.r)
      .attr('y1', d => y(d)).attr('y2', d => y(d)).attr('stroke', '#ebebeb').attr('stroke-width', 0.6);
    g.append('g').selectAll('line').data(goTissues).join('line').attr('y1', T).attr('y2', B)
      .attr('x1', d => x(d)).attr('x2', d => x(d)).attr('stroke', '#ebebeb').attr('stroke-width', 0.6);
    p.data.forEach((arr, i) => {
      g.append('g').selectAll('circle').data(arr).join('circle')
        .attr('cx', x(goTissues[i])).attr('cy', d => y(d[0])).attr('r', d => rScale(d[1]))
        .attr('fill', d => col(d[2]));
    });
    g.append('rect').attr('x', p.l).attr('y', T).attr('width', p.r - p.l).attr('height', B - T)
      .attr('fill', 'none').attr('stroke', '#333').attr('stroke-width', 0.7);
    g.append('rect').attr('x', p.l).attr('y', stripT).attr('width', p.r - p.l).attr('height', T - stripT)
      .attr('fill', '#d9d9d9').attr('stroke', '#333').attr('stroke-width', 0.7);
    g.append('text').attr('x', (p.l + p.r) / 2).attr('y', (T + stripT) / 2).attr('dy', '0.35em')
      .attr('text-anchor', 'middle').attr('font-size', 7.8).attr('fill', '#1a1a1a').text(p.name);
    const ax = g.append('g').attr('transform', `translate(0,${B})`)
      .call(d3.axisBottom(x).tickSize(2).tickSizeOuter(0).tickPadding(1.5));
    ax.select('.domain').remove();
    styleAxis(ax, 6.6);
  });
  const ay = g.append('g').attr('transform', `translate(${panels[0].l},0)`)
    .call(d3.axisLeft(y).tickSize(2).tickSizeOuter(0).tickPadding(1.5));
  ay.select('.domain').remove();
  styleAxis(ay, 6.3);
  g.append('text').attr('x', 477).attr('y', 395.5).attr('text-anchor', 'middle').attr('font-size', 6.8).attr('fill', '#222').text('Tissue');
  svg.append('text').attr('x', 253).attr('y', 216.5).attr('font-weight', 'bold').attr('font-size', 11).attr('fill', '#000').text('D');
  // size legend
  const lg = svg.append('g');
  lg.append('text').attr('x', 540).attr('y', 246).attr('font-size', 6.3).attr('fill', '#222').text('GeneRatio');
  sizeBreaks.forEach((s, i) => {
    const cy = [256, 265.5, 275.5, 286.5][i];
    lg.append('circle').attr('cx', 546).attr('cy', cy).attr('r', rScale(s)).attr('fill', '#000');
    lg.append('text').attr('x', 555).attr('y', cy).attr('dy', '0.35em').attr('font-size', 5.2).attr('fill', '#222').text(String(s));
  });
  // colour legend
  lg.append('text').attr('x', 540).attr('y', 310).attr('font-size', 6.3).attr('fill', '#222').text('p.adjust');
  const cbT = 315, cbB = 363.5, cbL = 541, cbW = 8.5;
  const grad = svg.append('defs').append('linearGradient').attr('id', 'vir').attr('x1', 0).attr('x2', 0).attr('y1', 1).attr('y2', 0);
  d3.range(0, 1.0001, 0.1).forEach(t => grad.append('stop').attr('offset', t).attr('stop-color', col(t * 0.042)));
  lg.append('rect').attr('x', cbL).attr('y', cbT).attr('width', cbW).attr('height', cbB - cbT).attr('fill', 'url(#vir)');
  const cy = d3.scaleLinear().domain([0, 0.042]).range([cbB, cbT]);
  padjBreaks.forEach(v => {
    lg.append('line').attr('x1', cbL).attr('x2', cbL + 1.8).attr('y1', cy(v)).attr('y2', cy(v)).attr('stroke', '#fff').attr('stroke-width', 0.6);
    lg.append('line').attr('x1', cbL + cbW - 1.8).attr('x2', cbL + cbW).attr('y1', cy(v)).attr('y2', cy(v)).attr('stroke', '#fff').attr('stroke-width', 0.6);
    lg.append('text').attr('x', 553).attr('y', cy(v)).attr('dy', '0.35em').attr('font-size', 5.2).attr('fill', '#222').text(v.toFixed(2));
  });
}
</script></body></html>
